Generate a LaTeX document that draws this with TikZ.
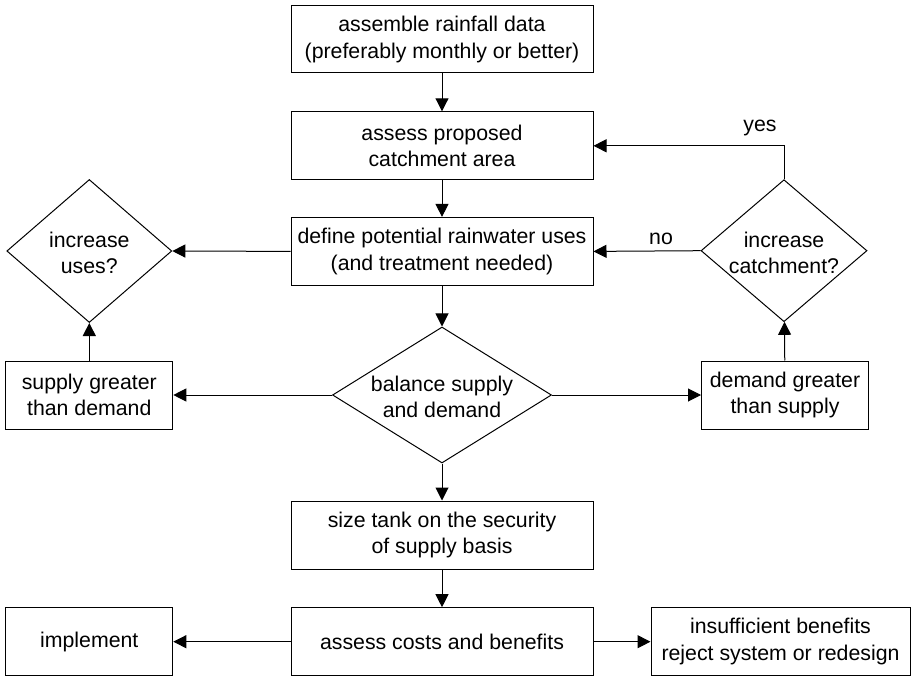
\documentclass[tikz,border=0pt]{standalone}
\usepackage{fontspec}
\setmainfont{Liberation Sans}
\usetikzlibrary{shapes.geometric,arrows.meta}
\begin{document}
\begin{tikzpicture}[x=1pt,y=-1pt,
  every node/.style={font=\fontsize{21.3}{26.5}\selectfont},
  box/.style={draw,line width=1pt,align=center,inner sep=0pt},
  dia/.style={draw,shape=diamond,line width=1pt,inner sep=0pt},
  dtext/.style={align=center,inner sep=0pt},
  conn/.style={line width=1pt,-{Triangle[length=13pt,width=13pt]}},
  lbl/.style={inner sep=0pt}]
\useasboundingbox (0,0) rectangle (913,679);
\node[box,minimum width=302pt,minimum height=67pt] (b1) at (442,39.5) {assemble rainfall data\\(preferably monthly or better)};
\node[box,minimum width=302pt,minimum height=68pt] (b2) at (442,145.8) {assess proposed\\catchment area};
\node[box,minimum width=302pt,minimum height=68pt] (b3) at (442,251.4) {define potential rainwater uses\\(and treatment needed)};
\node[dia,minimum width=219pt,minimum height=136pt] (bal) at (442,395) {};
\node[dtext] (balt) at (442,397) {balance supply\\and demand};
\node[box,minimum width=302pt,minimum height=68pt] (tank) at (442,535) {size tank on the security\\of supply basis};
\node[box,minimum width=302pt,minimum height=68pt] (cost) at (442,641.7) {assess costs and benefits};
\node[box,minimum width=167pt,minimum height=68pt] (impl) at (89.3,641.7) {implement};
\node[box,minimum width=259pt,minimum height=68pt] (insuf) at (780.5,641.7) {insufficient benefits\\reject system or redesign};
\node[box,minimum width=167pt,minimum height=68pt] (sup) at (89.3,395) {supply greater\\than demand};
\node[box,minimum width=167pt,minimum height=68pt] (dem) at (785,395) {demand greater\\than supply};
\node[dia,minimum width=165pt,minimum height=143pt] (incu) at (89.3,251) {};
\node[dtext] (incut) at (89.3,253) {increase\\uses?};
\node[dia,minimum width=166pt,minimum height=142pt] (incc) at (784,250.7) {};
\node[dtext] (incct) at (784,253) {increase\\catchment?};
\draw[conn] (b1) -- (b2);
\draw[conn] (b2) -- (b3);
\draw[conn] (b3) -- (bal);
\draw[conn] (bal) -- (tank);
\draw[conn] (tank) -- (cost);
\draw[conn] (cost) -- (impl);
\draw[conn] (cost) -- (insuf);
\draw[conn] (bal.west) -- (sup.east);
\draw[conn] (bal.east) -- (dem.west);
\draw[conn] (sup) -- (incu);
\draw[conn] (b3.west) -- (incu.east);
\draw[conn] (dem) -- (incc);
\draw[conn] (incc.west) -- (b3.east);
\draw[conn] (incc.north) |- (b2.east);
\node[lbl] (yes) at (760,128) {yes};
\node[lbl] (no) at (661,239) {no};
\end{tikzpicture}
\end{document}
